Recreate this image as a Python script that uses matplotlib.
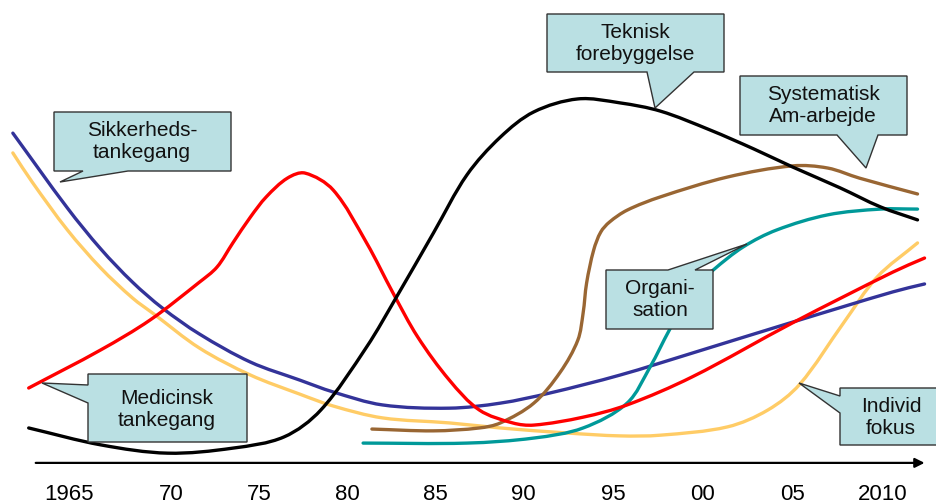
import numpy as np
import matplotlib
matplotlib.use("Agg")
import matplotlib.pyplot as plt
from matplotlib.path import Path
from matplotlib.patches import PathPatch, Polygon
from matplotlib.transforms import Affine2D

plt.rcParams['font.family'] = ['Liberation Sans', 'DejaVu Sans']

# levels are arbitrary "attention" units, years on the x axis
teknisk_x = [1961.8, 1965.9, 1969.7, 1973.4, 1976.3, 1978.4, 1981.0, 1982.7, 1984.8, 1986.7,
             1988.6, 1990.5, 1993.0, 1995.4, 1997.7, 2000.5, 2003.0, 2005.2, 2007.9, 2010.2, 2012.3]
teknisk_y = [8.9, 4.2, 1.9, 3.3, 6.4, 13.9, 31.4, 45.3, 63.1, 79.2,
             89.7, 96.7, 100.3, 99.2, 96.9, 91.7, 86.4, 81.4, 75.6, 70.3, 66.7]

medicinsk_x = [1961.8, 1965.9, 1968.7, 1971.5, 1972.5, 1973.4, 1974.4, 1975.3, 1976.5, 1977.5,
               1979.1, 1981.0, 1982.5, 1983.9, 1985.7, 1987.4, 1989.3, 1990.5, 1993.3, 1995.8,
               1999.5, 2005.2, 2010.9, 2012.7]
medicinsk_y = [20.0, 30.6, 38.9, 49.4, 53.6, 60.3, 67.5, 73.1, 78.3, 79.7,
               75.0, 60.3, 46.4, 34.2, 22.2, 13.9, 10.3, 9.7, 11.9, 15.3,
               23.1, 38.1, 52.2, 56.1]

sikkerhed_x = [1960.9, 1964.0, 1965.9, 1967.7, 1969.4, 1971.5, 1974.4, 1977.2, 1979.1, 1981.9,
               1985.7, 1988.6, 1991.4, 1995.4, 1999.5, 2005.2, 2010.9, 2012.7]
sikkerhed_y = [90.8, 70.0, 58.6, 49.4, 42.2, 35.0, 27.2, 22.2, 18.9, 15.3,
               14.4, 15.8, 18.6, 23.6, 29.7, 38.3, 46.7, 48.9]

individ_x = [1960.9, 1962.0, 1964.0, 1965.9, 1967.7, 1968.9, 1971.5, 1974.4, 1977.2, 1979.1,
             1981.9, 1985.7, 1988.6, 1992.4, 1995.4, 1997.7, 2001.5, 2003.8, 2005.6, 2008.1,
             2010.0, 2012.3]
individ_y = [85.3, 77.2, 63.9, 53.3, 45.0, 40.6, 31.1, 23.6, 18.3, 15.0,
             11.7, 10.3, 8.9, 7.5, 6.7, 6.9, 9.2, 13.9, 21.0, 38.1,
             50.8, 60.3]

system_x = [1981.3, 1984.8, 1987.4, 1988.6, 1990.5, 1992.0, 1993.0, 1993.3, 1993.5, 1993.9,
            1994.3, 1994.8, 1995.8, 1997.7, 2001.5, 2005.2, 2007.2, 2009.0, 2012.3]
system_y = [8.6, 8.1, 8.9, 10.3, 15.8, 24.4, 33.3, 40.8, 49.2, 58.3,
            63.3, 66.1, 69.4, 73.1, 78.6, 81.7, 81.1, 78.3, 73.9]

organisation_x = [1980.8, 1986.7, 1990.5, 1993.3, 1995.8, 1997.1, 1998.2, 1999.5, 2000.7,
                  2002.4, 2004.3, 2007.2, 2010.2, 2012.3]
organisation_y = [4.7, 4.7, 6.1, 8.9, 15.8, 25.8, 36.1, 47.2, 52.8,
                  59.2, 63.9, 68.1, 69.7, 69.7]

tick_labels = ["1965", "70", "75", "80", "85", "90", "95", "00", "05", "2010"]
tick_x = [1964.1, 1969.9, 1974.9, 1979.9, 1984.9, 1989.9, 1995.0, 2000.1, 2005.2, 2010.3]

fig = plt.figure(figsize=(9.36, 5.04), dpi=100)
ax = fig.add_axes([0, 0, 1, 1])
ax.set_xlim(1960.17, 2013.35)
ax.set_ylim(-12.22, 127.78)
ax.axis("off")


def smooth_path(xs, ys):
    # Catmull-Rom through the points, written as cubic Bezier segments
    pts = np.column_stack([xs, ys]).astype(float)
    disp = ax.transData.transform(pts)
    seg = np.hypot(*np.diff(disp, axis=0).T)
    t = np.concatenate([[0], np.cumsum(seg)])
    tang = np.zeros_like(pts)
    tang[1:-1] = (pts[2:] - pts[:-2]) / (t[2:] - t[:-2])[:, None]
    tang[0] = (pts[1] - pts[0]) / seg[0]
    tang[-1] = (pts[-1] - pts[-2]) / seg[-1]
    verts = [pts[0]]
    codes = [Path.MOVETO]
    for i in range(len(pts) - 1):
        h = seg[i] / 3
        verts += [pts[i] + tang[i] * h, pts[i + 1] - tang[i + 1] * h, pts[i + 1]]
        codes += [Path.CURVE4] * 3
    return Path(verts, codes)


curves = [
    (individ_x, individ_y, "#ffcc66"),
    (sikkerhed_x, sikkerhed_y, "#333399"),
    (organisation_x, organisation_y, "#009999"),
    (system_x, system_y, "#996633"),
    (medicinsk_x, medicinsk_y, "#ff0000"),
    (teknisk_x, teknisk_y, "#000000"),
]
for xs, ys, col in curves:
    ax.add_patch(PathPatch(smooth_path(xs, ys), facecolor="none", edgecolor=col,
                           lw=2.4, capstyle="round", zorder=2))

# time axis with arrow
ax.annotate("", xy=(2012.7, -0.8), xytext=(1962.2, -0.8),
            arrowprops=dict(arrowstyle="-|>", lw=1.6, color="black", mutation_scale=14,
                            shrinkA=0, shrinkB=0))
for lab, x in zip(tick_labels, tick_x):
    ax.text(x, -9.6, lab, ha="center", va="center", fontsize=16)

# callout boxes, laid out in pixel units from the top left corner
px = Affine2D().scale(1 / 936, -1 / 504).translate(0, 1) + fig.transFigure


def callout(box, side, a, b, tip, text, center):
    x0, y0, x1, y1 = box
    if side == "bottom":
        verts = [(x0, y0), (x1, y0), (x1, y1), (b, y1), tip, (a, y1), (x0, y1)]
    elif side == "top":
        verts = [(x0, y0), (a, y0), tip, (b, y0), (x1, y0), (x1, y1), (x0, y1)]
    else:
        verts = [(x0, y0), (x1, y0), (x1, y1), (x0, y1), (x0, b), tip, (x0, a)]
    fig.patches.append(Polygon(verts, closed=True, facecolor="#bae0e3", edgecolor="#333333",
                               lw=1.0, transform=px, zorder=5))
    fig.text(center[0], center[1], text, transform=px, ha="center", va="center",
             fontsize=15, linespacing=1.2, color="#111111", zorder=6)


callout((54, 112, 231, 171), "bottom", 83, 128, (60, 182), "Sikkerheds-\ntankegang", (142, 141))
callout((547, 14, 724, 72), "bottom", 647, 694, (655, 108), "Teknisk\nforebyggelse", (635, 43))
callout((740, 76, 907, 135), "bottom", 837, 878, (866, 168), "Systematisk\nAm-arbejde", (823, 106))
callout((606, 270, 713, 329), "top", 668, 695, (747, 244), "Organi-\nsation", (660, 300))
callout((88, 374, 247, 442), "left", 385, 403, (42, 383), "Medicinsk\ntankegang", (167, 410))
callout((840, 388, 950, 445), "left", 396, 413, (799, 383), "Individ\nfokus", (891, 418))

fig.savefig("out.png", dpi=100)
